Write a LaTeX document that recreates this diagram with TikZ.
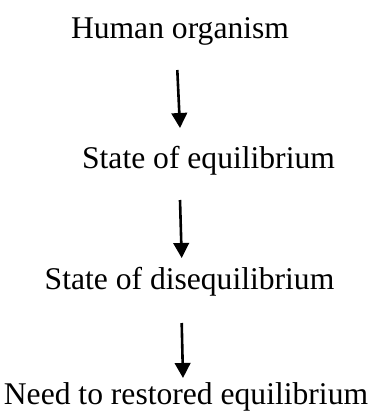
\documentclass[tikz,border=0pt]{standalone}
\usepackage{fontspec}
\setmainfont{Liberation Serif}
\usetikzlibrary{arrows.meta}
\begin{document}
\begin{tikzpicture}[x=1pt,y=-1pt,
  lbl/.style={anchor=base,inner sep=0pt,font=\fontsize{31.6}{38}\selectfont},
  flow/.style={line width=2.6pt,-{Triangle[width=15.5pt,length=15pt]}}]
\useasboundingbox (0,0) rectangle (385,420);
\node[lbl] (n1) at (180,38) {Human organism};
\node[lbl] (n2) at (208.5,168) {State of equilibrium};
\node[lbl] (n3) at (189.5,289) {State of disequilibrium};
\node[lbl] (n4) at (186,404) {Need to restored equilibrium};
\coordinate (a1s) at (177.3,70);
\coordinate (a1e) at (180,128);
\coordinate (a2s) at (180,200);
\coordinate (a2e) at (181.7,258);
\coordinate (a3s) at (181.7,323);
\coordinate (a3e) at (183,378);
\draw[flow] (a1s) -- (a1e);
\draw[flow] (a2s) -- (a2e);
\draw[flow] (a3s) -- (a3e);
\end{tikzpicture}
\end{document}
